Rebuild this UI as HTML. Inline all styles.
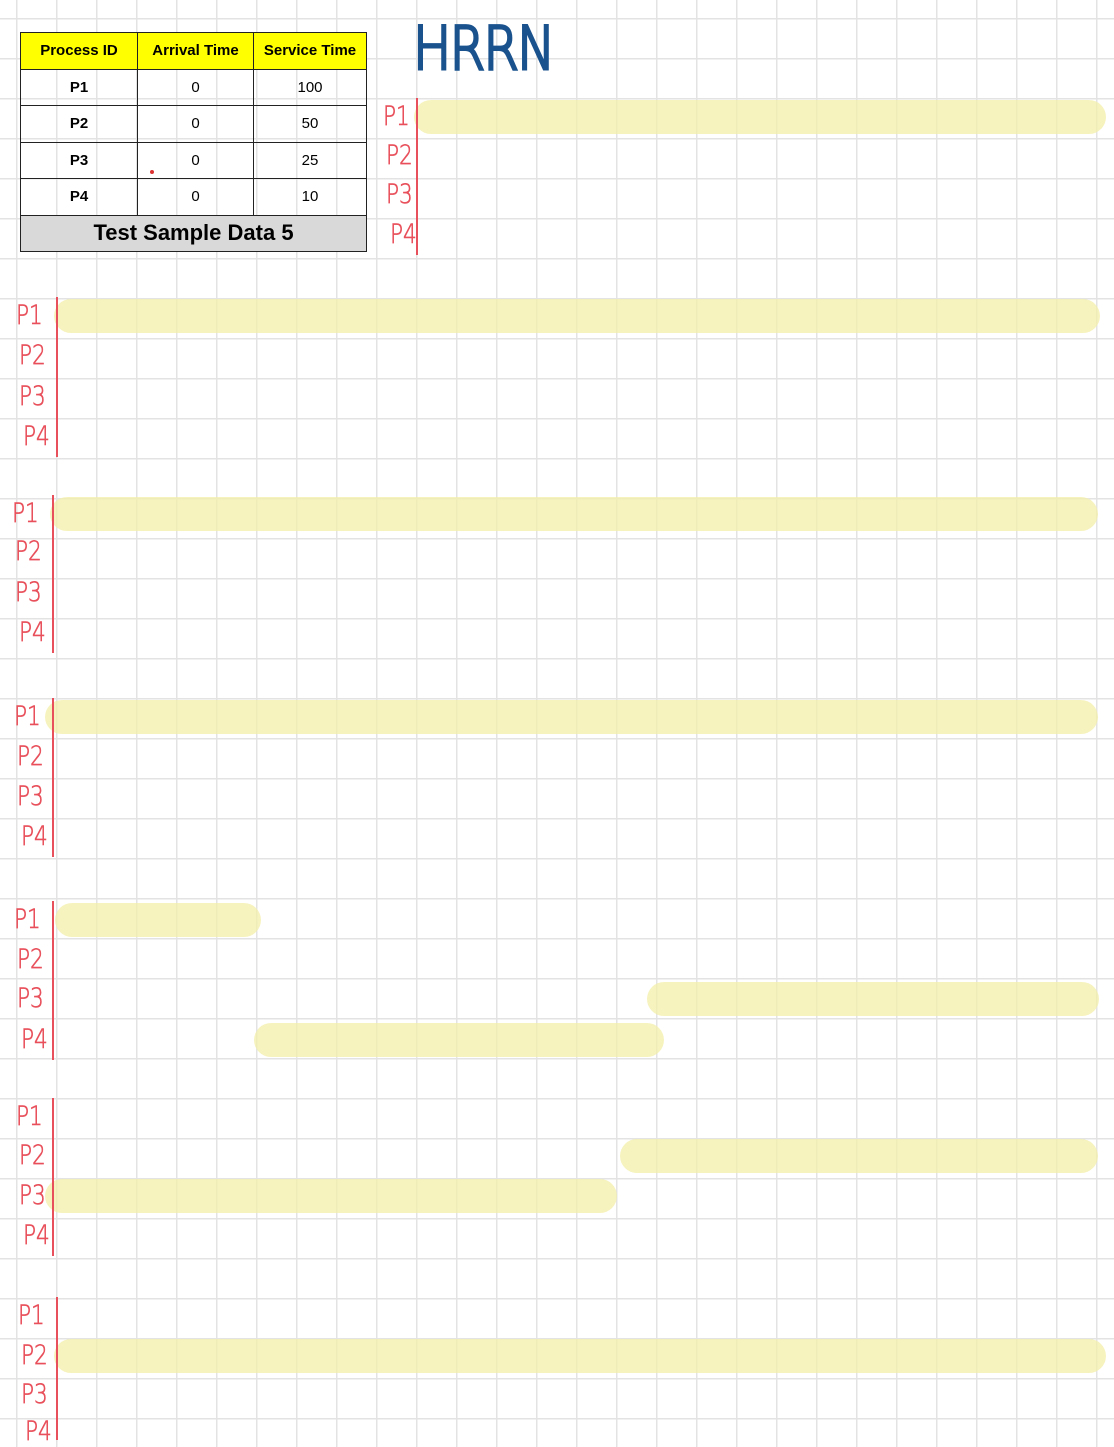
<!DOCTYPE html>
<html><head><meta charset="utf-8"><style>
html,body{margin:0;padding:0}
body{width:1114px;height:1440px;position:relative;overflow:hidden;background:#fff;
background-image:linear-gradient(to right,#e3e3e3 1.5px,transparent 1.5px),linear-gradient(to bottom,#e3e3e3 1.5px,transparent 1.5px);
background-size:40px 40px;background-position:16px 18px;font-family:"Liberation Sans",sans-serif}
table{position:absolute;left:20px;top:32px;border-collapse:collapse;width:347px;font-family:"Liberation Sans",sans-serif}
td,th{border:1.5px solid #222;text-align:center;font-size:15px;padding:0;height:35.5px}
th{background:#ffff00;font-weight:bold;height:35.5px}
td.g{background:#d9d9d9;font-size:22px;font-weight:bold;height:35.5px}
.lbl{position:absolute;color:#e8505b;font-size:27px;font-family:"DejaVu Sans","Liberation Sans",sans-serif;font-weight:200;-webkit-text-stroke:0.6px #e8505b;transform:scaleX(0.8);transform-origin:left center;line-height:1}
.axis{position:absolute;width:2px;background:#e8505b}
.bar{position:absolute;height:34px;border-radius:17px;background:rgba(243,239,170,0.75)}
#title{position:absolute;left:413px;top:14px;color:#1a528e;font-size:60px;font-family:"DejaVu Sans",sans-serif;font-weight:200;-webkit-text-stroke:3px #1a528e;transform:scaleX(0.85);transform-origin:left;letter-spacing:-2px}
</style></head><body>
<table>
<tr><th style="width:116px">Process ID</th><th style="width:115px">Arrival Time</th><th>Service Time</th></tr>
<tr><td><b>P1</b></td><td>0</td><td>100</td></tr>
<tr><td><b>P2</b></td><td>0</td><td>50</td></tr>
<tr><td><b>P3</b></td><td>0</td><td>25</td></tr>
<tr><td><b>P4</b></td><td>0</td><td>10</td></tr>
<tr><td colspan="3" class="g">Test Sample Data 5</td></tr>
</table>
<div style="position:absolute;left:150px;top:170px;width:4px;height:4px;border-radius:2px;background:#d33"></div>
<div id="title">HRRN</div>
<div id="charts"></div>
<script>
// chart geometry (layout, not data)
const chartAxisX=[416,56,52,52,52,52,56];
const chartLblX=[383,16,12,14,14,16,18];
const chartRowY=[[117,156,195,235],[316,356,397,437],[514,552,593,633],[717,757,797,837],[920,960,999,1040],[1117,1156,1196,1236],[1316,1356,1395,1432]];
const chartEndX=[1106,1100,1098,1098,1099,1098,1106];
// data: process names and bars per chart (process index, start %, end %)
const processes=["P1","P2","P3","P4"];
const barProc=[[0],[0],[0],[0],[0,2,3],[1,2],[1]];
const barStart=[[0],[0],[0],[-0.5],[0.5,57,19.5],[54.5,-0.5],[0]];
const barEnd=[[100],[100],[100],[100],[20],[100,54],[100]];
barEnd[4]=[20,100,58.5];
const root=document.getElementById('charts');
for(let c=0;c<7;c++){
  const rows=chartRowY[c];
  const x0=chartAxisX[c],x1=chartEndX[c];
  const sx=v=>x0+(x1-x0)*v/100;
  for(let b=0;b<barProc[c].length;b++){
    const el=document.createElement('div');
    
    
    el.className='bar';
    const a=sx(barStart[c][b]),e=sx(barEnd[c][b]);
    el.style.left=(a-2)+'px';el.style.width=(e-a+2)+'px';
    el.style.top=(rows[barProc[c][b]]-17)+'px';
    root.appendChild(el);
  }
  const ax=document.createElement('div');
  
  
  ax.className='axis';
  ax.style.left=x0+'px';ax.style.top=(rows[0]-19)+'px';ax.style.height=Math.min(1440,rows[3]+20)-(rows[0]-19)+'px';
  root.appendChild(ax);
  for(let r=0;r<4;r++){
    const l=document.createElement('div');
    
    
    l.className='lbl';
    l.textContent=processes[r];
    l.style.left=(chartLblX[c]+(r==0?0:3+(r==3?4:0)))+'px';
    l.style.top=(rows[r]-14)+'px';
    root.appendChild(l);
  }
}
</script>
</body></html>
